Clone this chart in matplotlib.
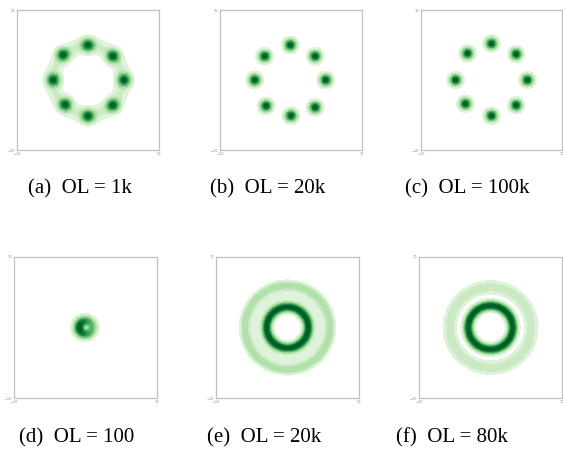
import numpy as np
import matplotlib
matplotlib.use("Agg")
import matplotlib.pyplot as plt

# mode centres (x, y) of the 8-gaussian runs
centersA = [(0, 5.0), (3.5, 3.4), (5.1, 0), (3.5, -3.6), (0, -5.2), (-3.2, -3.5), (-4.9, 0), (-3.5, 3.6)]
centersB = [(-0.1, 5.0), (3.4, 3.4), (4.9, 0), (3.4, -3.9), (0, -5.1), (-3.5, -3.7), (-5.1, 0), (-3.7, 3.4)]
centersC = [(0, 5.2), (3.5, 3.7), (5.1, 0), (3.5, -3.6), (0, -5.1), (-3.7, -3.4), (-5.1, 0), (-3.4, 3.8)]
modeSigma = [0.58, 0.52, 0.51]
# ring bridge for panel a: radius, width, weight
bridgeA = (4.9, 0.7, 0.18)

# rings for the concentric runs: radius, width, weight
ringsD = [(0.85, 0.5, 1.0)]
ringsE = [(2.9, 0.42, 1.0), (4.7, 0.85, 0.12), (6.0, 0.38, 0.3)]
ringsF = [(3.1, 0.42, 1.0), (5.7, 0.55, 0.22)]

captions = ["(a)  OL = 1k", "(b)  OL = 20k", "(c)  OL = 100k",
            "(d)  OL = 100", "(e)  OL = 20k", "(f)  OL = 80k"]

W, H = 563, 453
# frame boxes in pixels: left, right, top, bottom
boxes = [(17, 159, 10, 150), (220, 362, 10, 150), (421, 562, 10, 150),
         (14, 157, 257, 398), (216, 359, 257, 398), (419, 562, 257, 398)]
capPos = [(80, 189), (268, 189), (467, 189), (77, 438), (264, 438), (452, 438)]

g = np.linspace(-10, 10, 500)
X, Y = np.meshgrid(g, g)
R = np.sqrt(X**2 + Y**2)


def modes(centers, s):
    z = np.zeros_like(X)
    for cx, cy in centers:
        z += np.exp(-((X - cx)**2 + (Y - cy)**2) / (2 * s**2))
    return z


def rings(spec):
    z = np.zeros_like(X)
    for r0, s, w in spec:
        z += w * np.exp(-(R - r0)**2 / (2 * s**2))
    return z


zA = modes(centersA, modeSigma[0]) + bridgeA[2] * np.exp(-(R - bridgeA[0])**2 / (2 * bridgeA[1]**2))
zB = modes(centersB, modeSigma[1])
zC = modes(centersC, modeSigma[2])
zD = rings(ringsD) * (1 + 0.3 * np.cos(np.arctan2(Y, X) - np.pi))
zE = rings(ringsE)
zF = rings(ringsF)
fields = [zA, zB, zC, zD, zE, zF]

# filled density levels, lowest one cut off as background
levels = np.linspace(0.05, 1.0, 11)
colors = plt.get_cmap("Greens")(np.linspace(0.15, 0.92, 10))

fig = plt.figure(figsize=(W / 100, H / 100), dpi=100)
for i in range(6):
    l, r, t, b = boxes[i]
    ax = fig.add_axes([l / W, 1 - b / H, (r - l) / W, (b - t) / H])
    z = fields[i] / fields[i].max()
    ax.contourf(X, Y, z, levels=levels[:-1].tolist() + [1.01], colors=colors)
    ax.set_xlim(-10, 10)
    ax.set_ylim(-10, 10)
    ax.set_xticks([-10, 10])
    ax.set_yticks([-10, 10])
    ax.tick_params(length=0, labelsize=2.5, labelcolor="#888888", pad=1.5)
    for sp in ax.spines.values():
        sp.set_color("#c0c0c0")
        sp.set_linewidth(0.9)
    cx, cy = capPos[i]
    fig.text(cx / W, 1 - cy / H, captions[i], ha="center", va="center",
             fontsize=15, family="Liberation Serif")

fig.savefig("out.png", dpi=100)
